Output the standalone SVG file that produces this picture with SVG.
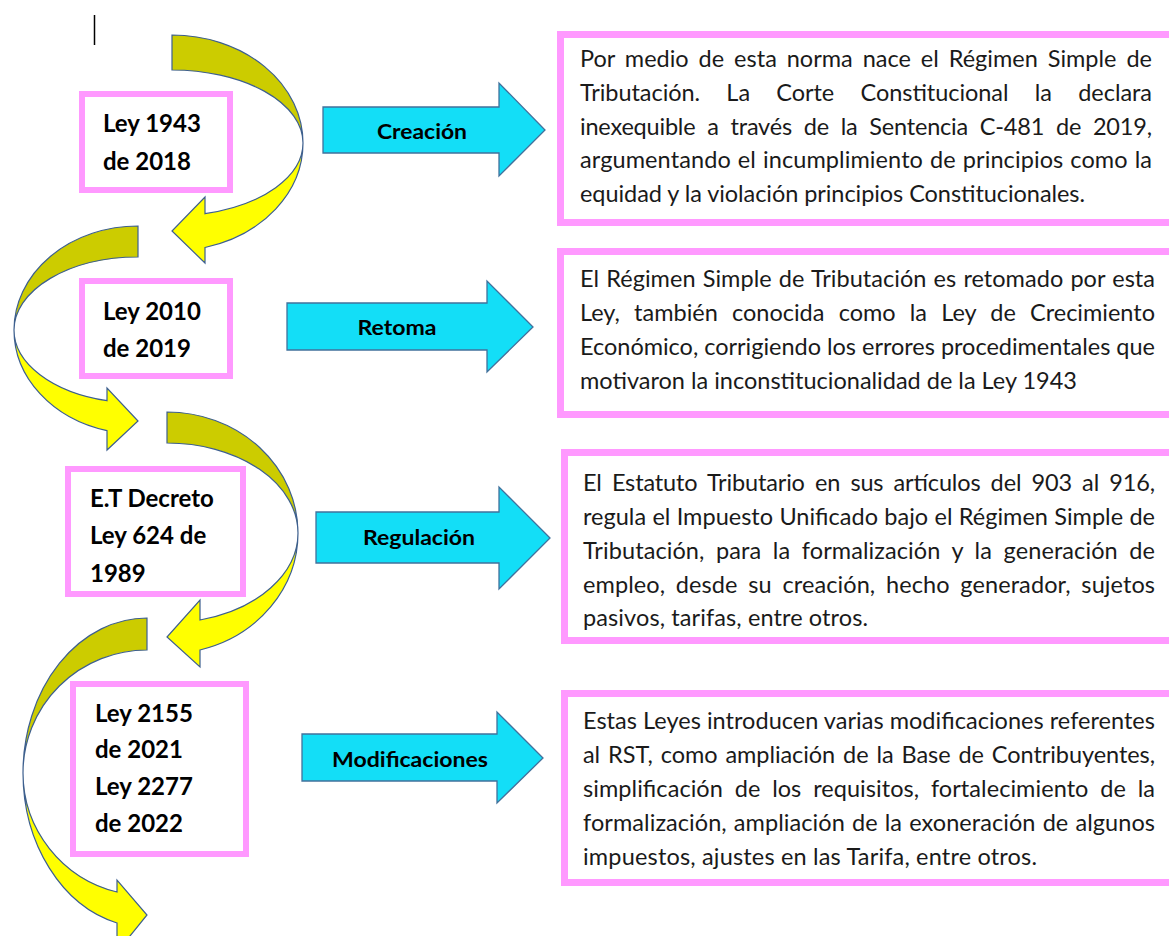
<svg xmlns="http://www.w3.org/2000/svg" width="1169" height="936" viewBox="0 0 1169 936">
<style>
.back{fill:#cccc00;stroke:#3d5f8f;stroke-width:1.2}
.front{fill:#ffff00;stroke:#3d5f8f;stroke-width:1.2}
.node{fill:#ffffff;stroke:#ff99ff;stroke-width:6}
.nt{font-family:Lato,"Open Sans",sans-serif;font-weight:bold;font-size:24px;fill:#000}
.blue{fill:#13def7;stroke:#41719c;stroke-width:1.3}
.bt{font-family:Lato,"Open Sans",sans-serif;font-weight:bold;font-size:21px;fill:#000;text-anchor:middle}
.tb{fill:#ffffff;stroke:#ff99ff;stroke-width:7}
.tx{font-family:Lato,"Open Sans",sans-serif;font-size:23.5px;fill:#1a1a1a}
</style>
<rect width="1169" height="936" fill="#ffffff"/>
<line x1="94.5" y1="15" x2="94.5" y2="45" stroke="#000" stroke-width="1.5"/>
<g id="connectors">
  <g id="curve1">
    <path class="back" d="M172,35 A131,108 0 0 1 303,143 A131,73 0 0 0 172,70 Z"/>
    <path class="front" d="M303,143 A131,108 0 0 1 205,247.5 L205,263 L172,231 L205,197 L205,213.7 A131,73 0 0 0 303,143 Z"/>
  </g>
  <g id="curve2">
    <path class="back" d="M138,226 A124,104 0 0 0 14,330 A124,73 0 0 1 138,257 Z"/>
    <path class="front" d="M14,330 A124,104 0 0 0 107,430.7 L107,450 L138,421 L107,388 L107,400.7 A124,73 0 0 1 14,330 Z"/>
  </g>
  <g id="curve3">
    <path class="back" d="M167,412 A131,121 0 0 1 298,533 A131,90 0 0 0 167,443 Z"/>
    <path class="front" d="M298,533 A131,121 0 0 1 200,650 L200,667 L167,637 L200,600 L200,620 A131,90 0 0 0 298,533 Z"/>
  </g>
  <g id="curve4">
    <path class="back" d="M147,618 A124,155 0 0 0 23,773 A124,123 0 0 1 147,650 Z"/>
    <path class="front" d="M23,773 A124,155 0 0 0 117,923 L117,952 L147,915 L117,880 L117,892 A124,123 0 0 1 23,773 Z"/>
  </g>
  <g id="arrow-creacion">
    <polygon class="blue" points="323,107 499,107 499,83 545,130 499,176 499,153 323,153"/>
    <text class="bt" x="422" y="139" textLength="90" lengthAdjust="spacingAndGlyphs">Creación</text>
  </g>
  <g id="arrow-retoma">
    <polygon class="blue" points="287,303 487,303 487,281 533,327 487,372 487,350 287,350"/>
    <text class="bt" x="397" y="335" textLength="79" lengthAdjust="spacingAndGlyphs">Retoma</text>
  </g>
  <g id="arrow-regulacion">
    <polygon class="blue" points="316,512 499,512 499,487 550,538 499,589 499,563 316,563"/>
    <text class="bt" x="419" y="545" textLength="112" lengthAdjust="spacingAndGlyphs">Regulación</text>
  </g>
  <g id="arrow-modificaciones">
    <polygon class="blue" points="302,734 497,734 497,712 543,758 497,803 497,781 302,781"/>
    <text class="bt" x="410" y="767" textLength="156" lengthAdjust="spacingAndGlyphs">Modificaciones</text>
  </g>
</g>
<g id="node-ley1943">
  <rect class="node" x="82" y="94" width="148" height="96"/>
  <text class="nt" x="103" y="132">Ley 1943</text>
  <text class="nt" x="103" y="170">de 2018</text>
</g>
<g id="node-ley2010">
  <rect class="node" x="82" y="281" width="148" height="95"/>
  <text class="nt" x="103" y="320">Ley 2010</text>
  <text class="nt" x="103" y="357">de 2019</text>
</g>
<g id="node-et">
  <rect class="node" x="68" y="469" width="175" height="125"/>
  <text class="nt" x="90" y="507">E.T Decreto</text>
  <text class="nt" x="90" y="544">Ley 624 de</text>
  <text class="nt" x="90" y="582">1989</text>
</g>
<g id="node-ley2155">
  <rect class="node" x="73" y="684" width="173" height="170"/>
  <text class="nt" x="95" y="722">Ley 2155</text>
  <text class="nt" x="95" y="758">de 2021</text>
  <text class="nt" x="95" y="795">Ley 2277</text>
  <text class="nt" x="95" y="832">de 2022</text>
</g>
<g id="desc-creacion">
  <rect class="tb" x="560.5" y="34.5" width="620" height="188"/>
  <text class="tx" x="580" y="67" textLength="572" lengthAdjust="spacing" style="word-spacing:3.9px">Por medio de esta norma nace el Régimen Simple de</text>
  <text class="tx" x="580" y="101" textLength="572" lengthAdjust="spacing" style="word-spacing:20.4px">Tributación. La Corte Constitucional la declara</text>
  <text class="tx" x="580" y="135" textLength="572" lengthAdjust="spacing" style="word-spacing:6px">inexequible a través de la Sentencia C-481 de 2019,</text>
  <text class="tx" x="580" y="168" textLength="572" lengthAdjust="spacing" style="word-spacing:0.9px">argumentando el incumplimiento de principios como la</text>
  <text class="tx" x="580" y="202" textLength="505" lengthAdjust="spacing">equidad y la violación principios Constitucionales.</text>
</g>
<g id="desc-retoma">
  <rect class="tb" x="560.5" y="251.5" width="620" height="163"/>
  <text class="tx" x="580" y="287" textLength="575" lengthAdjust="spacing" style="word-spacing:1.1px">El Régimen Simple de Tributación es retomado por esta</text>
  <text class="tx" x="580" y="321" textLength="575" lengthAdjust="spacing" style="word-spacing:8.2px">Ley, también conocida como la Ley de Crecimiento</text>
  <text class="tx" x="580" y="355" textLength="575" lengthAdjust="spacing">Económico, corrigiendo los errores procedimentales que</text>
  <text class="tx" x="580" y="389" textLength="497" lengthAdjust="spacing">motivaron la inconstitucionalidad de la Ley 1943</text>
</g>
<g id="desc-regulacion">
  <rect class="tb" x="564.5" y="452.5" width="620" height="188"/>
  <text class="tx" x="583" y="491" textLength="572" lengthAdjust="spacing" style="word-spacing:4.3px">El Estatuto Tributario en sus artículos del 903 al 916,</text>
  <text class="tx" x="583" y="525" textLength="572" lengthAdjust="spacing" style="word-spacing:0.3px">regula el Impuesto Unificado bajo el Régimen Simple de</text>
  <text class="tx" x="583" y="559" textLength="572" lengthAdjust="spacing" style="word-spacing:5.5px">Tributación, para la formalización y la generación de</text>
  <text class="tx" x="583" y="593" textLength="572" lengthAdjust="spacing" style="word-spacing:4.6px">empleo, desde su creación, hecho generador, sujetos</text>
  <text class="tx" x="583" y="626" textLength="285" lengthAdjust="spacing">pasivos, tarifas, entre otros.</text>
</g>
<g id="desc-modificaciones">
  <rect class="tb" x="564.5" y="693.5" width="620" height="189"/>
  <text class="tx" x="583" y="729" textLength="572" lengthAdjust="spacing">Estas Leyes introducen varias modificaciones referentes</text>
  <text class="tx" x="583" y="763" textLength="572" lengthAdjust="spacing" style="word-spacing:2px">al RST, como ampliación de la Base de Contribuyentes,</text>
  <text class="tx" x="583" y="797" textLength="572" lengthAdjust="spacing" style="word-spacing:5.7px">simplificación de los requisitos, fortalecimiento de la</text>
  <text class="tx" x="583" y="831" textLength="572" lengthAdjust="spacing" style="word-spacing:1px">formalización, ampliación de la exoneración de algunos</text>
  <text class="tx" x="583" y="865" textLength="454" lengthAdjust="spacing">impuestos, ajustes en las Tarifa, entre otros.</text>
</g>
</svg>
